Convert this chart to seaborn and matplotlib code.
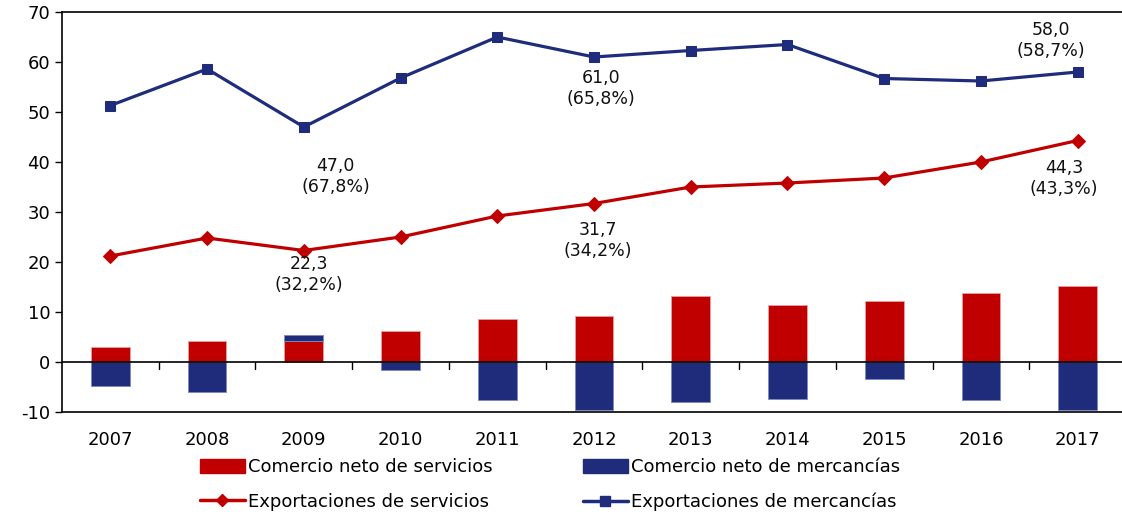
import numpy as np
import matplotlib
matplotlib.use("Agg")
import matplotlib.pyplot as plt
import seaborn as sns
from matplotlib.patches import Patch
from matplotlib.lines import Line2D

years = ["2007", "2008", "2009", "2010", "2011", "2012", "2013", "2014", "2015", "2016", "2017"]
exp_mercancias = [51.3, 58.6, 47.0, 56.8, 65.0, 61.0, 62.3, 63.5, 56.7, 56.2, 58.0]
exp_servicios = [21.2, 24.8, 22.3, 25.0, 29.2, 31.7, 35.0, 35.8, 36.8, 40.0, 44.3]
neto_servicios = [3.0, 4.3, 4.3, 6.2, 8.7, 9.3, 13.2, 11.4, 12.2, 13.9, 15.2]
neto_mercancias = [-4.8, -5.9, 1.1, -1.5, -7.6, -9.5, -8.0, -7.3, -3.4, -7.5, -9.6]

# etiquetas: (indice del año, valor, porcentaje, desplazamiento x, y del texto)
etiquetas = [
    (2, "47,0", "(67,8%)", 0.33, 37.1),
    (5, "61,0", "(65,8%)", 0.07, 54.7),
    (10, "58,0", "(58,7%)", -0.28, 64.3),
    (2, "22,3", "(32,2%)", 0.05, 17.5),
    (5, "31,7", "(34,2%)", 0.04, 24.3),
    (10, "44,3", "(43,3%)", -0.14, 36.7),
]

rojo = "#C00000"
azul = "#1F2C7C"

sns.set_theme(style="white")
plt.rcParams['font.family'] = ['DejaVu Sans']
plt.rcParams['axes.unicode_minus'] = False

fig = plt.figure(figsize=(11.22, 5.18), dpi=100)
ax = fig.add_axes([62 / 1122, 106 / 518, 1064 / 1122, 400 / 518])

x = np.arange(len(years))
serv = np.array(neto_servicios)
merc = np.array(neto_mercancias)

sns.barplot(x=years, y=neto_servicios, color=rojo, width=0.4, saturation=1, ax=ax,
            edgecolor="#e8a0a0", linewidth=0.6)
ax.bar(x, merc, width=0.4, bottom=np.where(merc > 0, serv, 0), color=azul,
       edgecolor="#7f88c0", linewidth=0.6)

sns.lineplot(x=x, y=exp_servicios, color=rojo, linewidth=2.3, marker="D", markersize=7,
             markeredgecolor=rojo, ax=ax)
sns.lineplot(x=x, y=exp_mercancias, color=azul, linewidth=2.3, marker="s", markersize=7.5,
             markeredgecolor=azul, ax=ax)

for i, v, p, dx, ty in etiquetas:
    ax.text(x[i] + dx, ty, v + "\n" + p, ha="center", va="center", fontsize=12.5,
            color="#111111", linespacing=1.25)

ax.axhline(0, color="black", linewidth=1.2, zorder=1.5)
for b in x[:-1] + 0.5:
    ax.plot([b, b], [0, -1.4], color="black", linewidth=1)

ax.set_xlim(-0.5, 10.5)
ax.set_ylim(-10, 70)
ax.set_yticks(range(-10, 71, 10))
ax.tick_params(axis="y", length=5, width=1, color="black", labelsize=13, direction="out",
               left=True, labelcolor="black")
ax.tick_params(axis="x", length=0, labelsize=13, pad=14, labelcolor="black")
for s in ["left", "bottom", "top"]:
    ax.spines[s].set_color("black")
    ax.spines[s].set_linewidth(1.2)
ax.spines["right"].set_visible(False)
ax.set_xlabel("")
ax.set_ylabel("")

handles = [
    Patch(color=rojo),
    Line2D([], [], color=rojo, linewidth=2.5, marker="D", markersize=6.5),
    Patch(color=azul),
    Line2D([], [], color=azul, linewidth=2.5, marker="s", markersize=6.5),
]
labels = ["Comercio neto de servicios", "Exportaciones de servicios",
          "Comercio neto de mercancías", "Exportaciones de mercancías"]
fig.legend(handles, labels, ncol=2, loc="center", bbox_to_anchor=(0.49, 0.064),
           frameon=False, fontsize=13, handlelength=2.5, handleheight=0.8,
           handletextpad=0.15, columnspacing=5.0, labelspacing=0.9, labelcolor="black")

fig.savefig("out.png", dpi=100)
